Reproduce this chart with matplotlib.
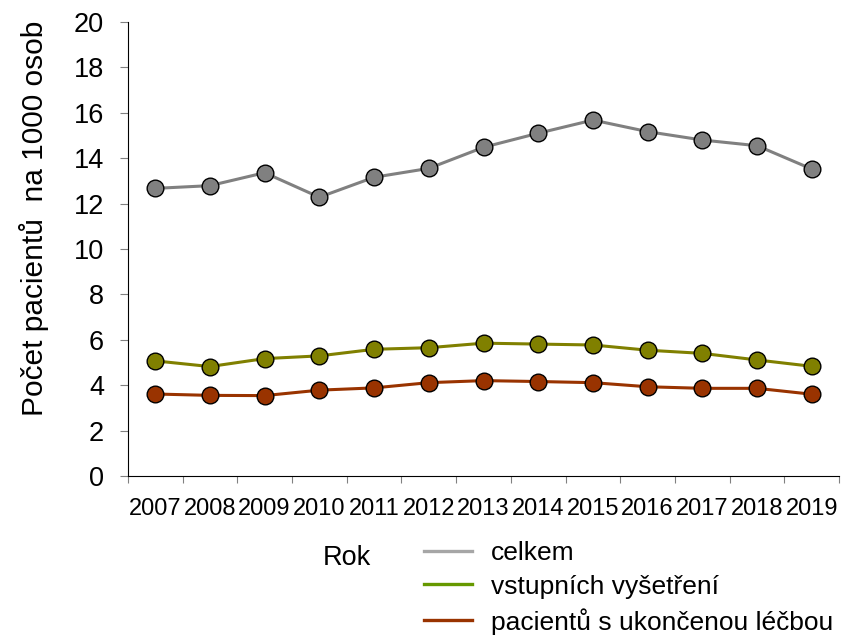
import matplotlib.pyplot as plt
from matplotlib.lines import Line2D

plt.rcParams['font.family'] = ['Liberation Sans', 'DejaVu Sans']

roky = ['2007', '2008', '2009', '2010', '2011', '2012', '2013',
        '2014', '2015', '2016', '2017', '2018', '2019']
celkem = [12.67, 12.79, 13.36, 12.28, 13.16, 13.55, 14.48,
          15.10, 15.68, 15.17, 14.80, 14.55, 13.52]
vstupni = [5.07, 4.82, 5.17, 5.29, 5.58, 5.65, 5.85,
           5.81, 5.77, 5.54, 5.40, 5.11, 4.83]
ukoncene = [3.61, 3.55, 3.54, 3.78, 3.88, 4.11, 4.20,
            4.16, 4.11, 3.93, 3.86, 3.86, 3.60]

fig = plt.figure(figsize=(8.52, 6.38), dpi=100)
ax = fig.add_axes([0.150, 0.254, 0.835, 0.7115])

x = range(len(roky))
series = [(celkem, '#808080'), (vstupni, '#808000'), (ukoncene, '#993300')]
for vals, col in series:
    ax.plot(x, vals, color=col, lw=2.2, marker='o', ms=12,
            mfc=col, mec='black', mew=1.0, zorder=3)

ax.set_xlim(-0.5, len(roky) - 0.5)
ax.set_ylim(0, 20)
ax.set_yticks(range(0, 21, 2))
ax.tick_params(axis='y', labelsize=19.5, direction='out', length=6,
               color='#808080', pad=11)

# category ticks between years, labels centered
ax.set_xticks([i - 0.5 for i in range(len(roky) + 1)])
ax.set_xticklabels([])
ax.set_xticks(list(x), minor=True)
ax.set_xticklabels(roky, minor=True, fontsize=17)
ax.tick_params(axis='x', which='major', direction='out', length=5,
               color='#808080')
ax.tick_params(axis='x', which='minor', length=0, pad=16)

for s in ['top', 'right']:
    ax.spines[s].set_visible(False)
ax.spines['left'].set_color('black')
ax.spines['bottom'].set_color('black')

ax.set_ylabel('Počet pacientů  na 1000 osob', fontsize=21.5)
ax.yaxis.set_label_coords(-0.111, 0.567)

fig.text(0.379, 1 - 558 / 638, 'Rok', fontsize=19.5, va='center', ha='left')

handles = [Line2D([], [], color='#a6a6a6', lw=2.4),
           Line2D([], [], color='#669900', lw=2.4),
           Line2D([], [], color='#993300', lw=2.4)]
labels = ['celkem', 'vstupních vyšetření', 'pacientů s ukončenou léčbou']
fig.legend(handles, labels, loc='upper left', bbox_to_anchor=(0.4977, 0.152),
           frameon=False, fontsize=19, handlelength=1.82, handletextpad=0.72,
           labelspacing=0.36, borderpad=0, borderaxespad=0)

fig.savefig('out.png', dpi=100)
